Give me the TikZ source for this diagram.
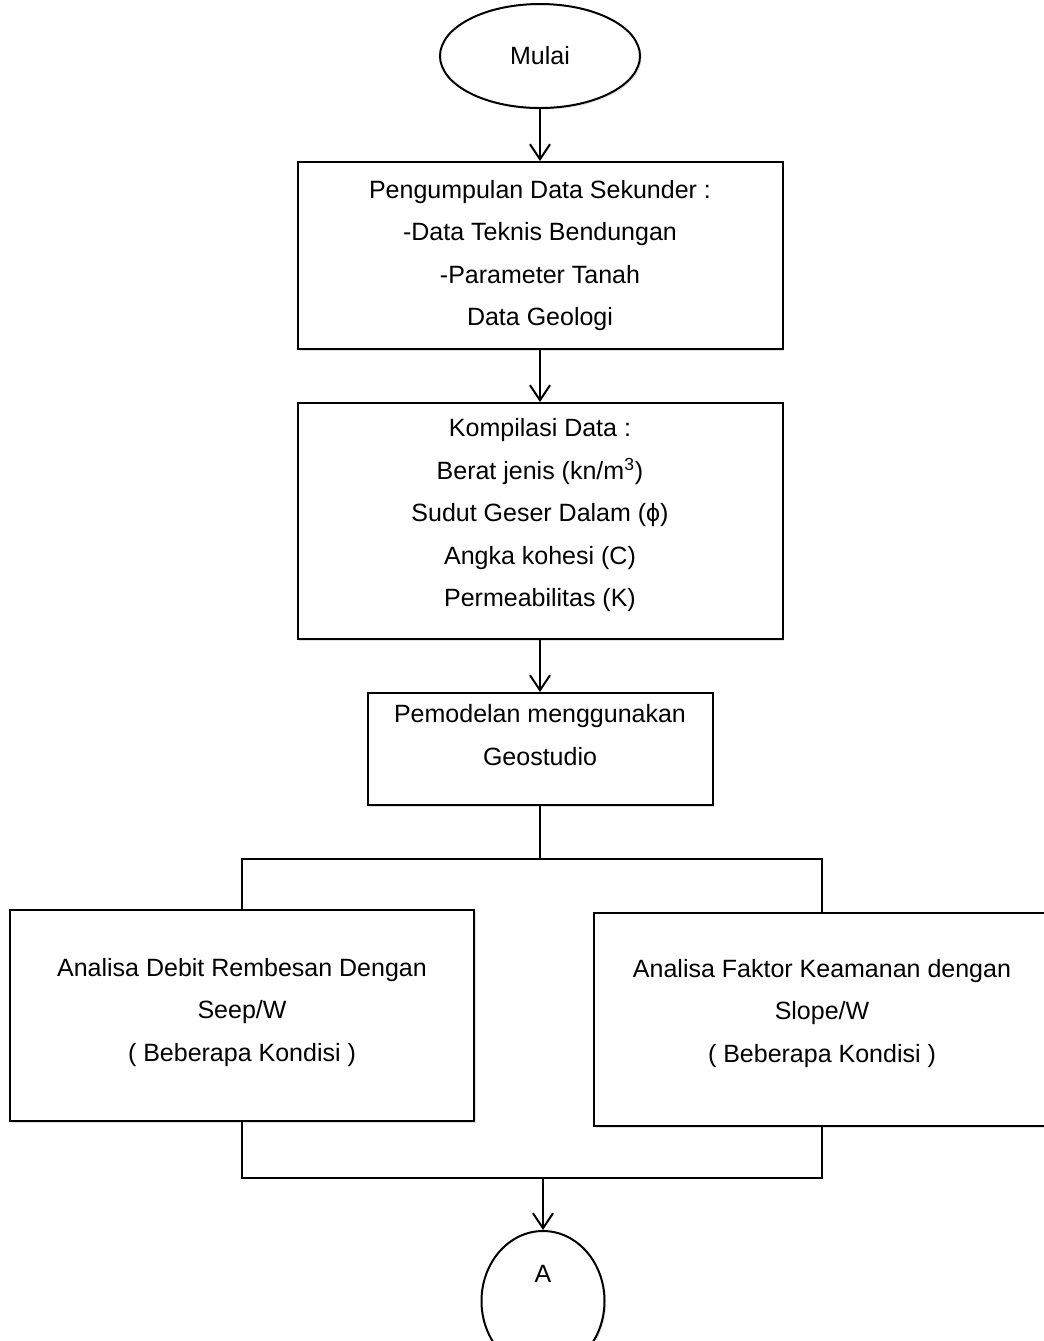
\documentclass[tikz,border=0pt]{standalone}
\usepackage{fontspec}
\setmainfont{Liberation Sans}
\usetikzlibrary{positioning,calc,shapes.geometric,arrows.meta,shadows}

\begin{document}
\begin{tikzpicture}[
  x=1pt, y=1pt,
  font=\fontsize{12.5}{21.25}\selectfont, node distance=26pt,
  blok/.style={draw, line width=1pt, fill=white, align=center, inner sep=0pt,
    drop shadow={shadow xshift=0.8pt, shadow yshift=-0.8pt, opacity=0.25}},
  proses/.style={blok, rectangle},
  term/.style={blok, ellipse, minimum width=100pt, minimum height=52pt},
  konek/.style={blok, ellipse, minimum width=61.5pt, minimum height=70pt, text depth=27pt},
  arr/.style={-{Straight Barb[length=7.5pt,width=10pt]}, line width=1pt},
  garis/.style={line width=1pt}]

\useasboundingbox (0,0) rectangle (522,-670.5);

\node[term] (mulai) at (270,-28) {Mulai};
\node[proses, below=of mulai, minimum width=242.5pt, minimum height=93.5pt] (sekunder)
  {Pengumpulan Data Sekunder :\\-Data Teknis Bendungan\\-Parameter Tanah\\Data Geologi};
\node[proses, below=of sekunder, minimum width=242.5pt, minimum height=118pt, text depth=8.5pt] (kompilasi)
  {Kompilasi Data :\\Berat jenis (kn/m\textsuperscript{3})\\Sudut Geser Dalam (ϕ)\\Angka kohesi (C)\\Permeabilitas (K)};
\node[proses, below=of kompilasi, minimum width=172.5pt, minimum height=56pt, text depth=14pt] (model)
  {Pemodelan menggunakan\\Geostudio};

% percabangan ke dua analisa
\coordinate[below=26.5pt of model] (cabang);
\node[proses, anchor=north, minimum width=232pt, minimum height=105.5pt, text depth=5.6pt] (seep) at (121,-454.5)
  {Analisa Debit Rembesan Dengan\\Seep/W\\( Beberapa Kondisi )};
\node[proses, anchor=north, minimum width=228pt, minimum height=106.5pt, text depth=8.6pt] (slope) at (411,-456)
  {Analisa Faktor Keamanan dengan\\Slope/W\\( Beberapa Kondisi )};

\coordinate (gabung) at (271.5,-589);
\node[konek, below=26pt of gabung] (akhir) {A};

\draw[arr] (mulai) -- (sekunder);
\draw[arr] (sekunder) -- (kompilasi);
\draw[arr] (kompilasi) -- (model);
\draw[garis] (model.south) -- (cabang);
\draw[garis] (seep.north) |- (cabang) -| (slope.north);
\draw[garis] (seep.south) |- (gabung) -| (slope.south);
\draw[arr] (gabung) -- (akhir.north);
\end{tikzpicture}
\end{document}
